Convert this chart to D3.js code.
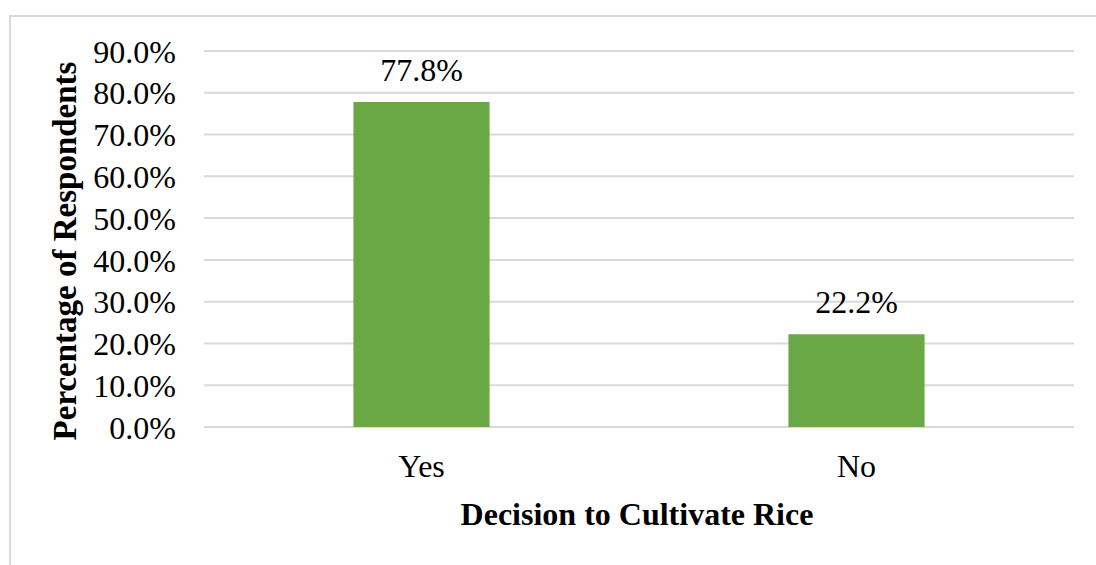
<!DOCTYPE html>
<html>
<head>
<meta charset="utf-8">
<script src="https://cdn.jsdelivr.net/npm/d3@7"></script>
<style>
  html, body { margin: 0; padding: 0; background: #fff; }
  svg { display: block; }
</style>
</head>
<body>
<svg id="chart" width="1096" height="565"></svg>
<script>
// Share of respondents by decision to cultivate rice
const categories = ["Yes", "No"];
const values = [77.8, 22.2];
const yTicks = [0, 10, 20, 30, 40, 50, 60, 70, 80, 90];

const FONT = "'Liberation Serif', 'Times New Roman', serif";
const svg = d3.select("#chart");
const W = 1096, H = 565;
const plot = { left: 204, right: 1074, top: 51, bottom: 427 };

// chart frame (top and left edges visible)
svg.append("rect")
  .attr("x", 10).attr("y", 16)
  .attr("width", W + 20).attr("height", H + 20)
  .attr("fill", "none").attr("stroke", "#d9d9d9").attr("stroke-width", 2);

const x = d3.scaleBand().domain(categories).range([plot.left, plot.right]).padding(0);
const y = d3.scaleLinear().domain([0, 90]).range([plot.bottom, plot.top]);
const barW = x.bandwidth() * 0.313;

// gridlines
svg.append("g").selectAll("line").data(yTicks).join("line")
  .attr("x1", plot.left).attr("x2", plot.right)
  .attr("y1", d => y(d)).attr("y2", d => y(d))
  .attr("stroke", "#d9d9d9").attr("stroke-width", 2);

// y axis labels
const yAxis = d3.axisLeft(y).tickValues(yTicks).tickSize(0).tickPadding(0)
  .tickFormat(d => d3.format(".1f")(d) + "%");
const gy = svg.append("g").attr("transform", `translate(176,0)`).call(yAxis);
gy.attr("font-family", FONT).attr("font-size", 32);
gy.select(".domain").remove();
gy.selectAll("text").attr("fill", "#000").attr("dy", "0.35em");

// bars
svg.append("g").selectAll("rect").data(values).join("rect")
  .attr("x", (d, i) => x(categories[i]) + x.bandwidth() / 2 - barW / 2)
  .attr("y", d => y(d))
  .attr("width", barW)
  .attr("height", d => y(0) - y(d))
  .attr("fill", "#6aa745");

// value labels
svg.append("g").attr("font-family", FONT).attr("font-size", 32)
  .selectAll("text").data(values).join("text")
  .attr("x", (d, i) => x(categories[i]) + x.bandwidth() / 2)
  .attr("y", d => y(d) - 21)
  .attr("text-anchor", "middle")
  .attr("fill", "#000")
  .text(d => d3.format(".1f")(d) + "%");

// x axis labels
const xAxis = d3.axisBottom(x).tickSize(0).tickPadding(0);
const gx = svg.append("g").attr("transform", `translate(0,${plot.bottom})`).call(xAxis);
gx.attr("font-family", FONT).attr("font-size", 32);
gx.select(".domain").remove();
gx.selectAll("text").attr("fill", "#000").attr("dy", null).attr("y", 50);

// axis titles
svg.append("text")
  .attr("x", 637).attr("y", 525)
  .attr("text-anchor", "middle")
  .attr("font-family", FONT)
  .attr("font-size", 32).attr("font-weight", "bold")
  .text("Decision to Cultivate Rice");

svg.append("text")
  .attr("transform", "translate(76,251) rotate(-90)")
  .attr("text-anchor", "middle")
  .attr("font-family", FONT)
  .attr("font-size", 33).attr("font-weight", "bold")
  .text("Percentage of Respondents");
</script>
</body>
</html>
